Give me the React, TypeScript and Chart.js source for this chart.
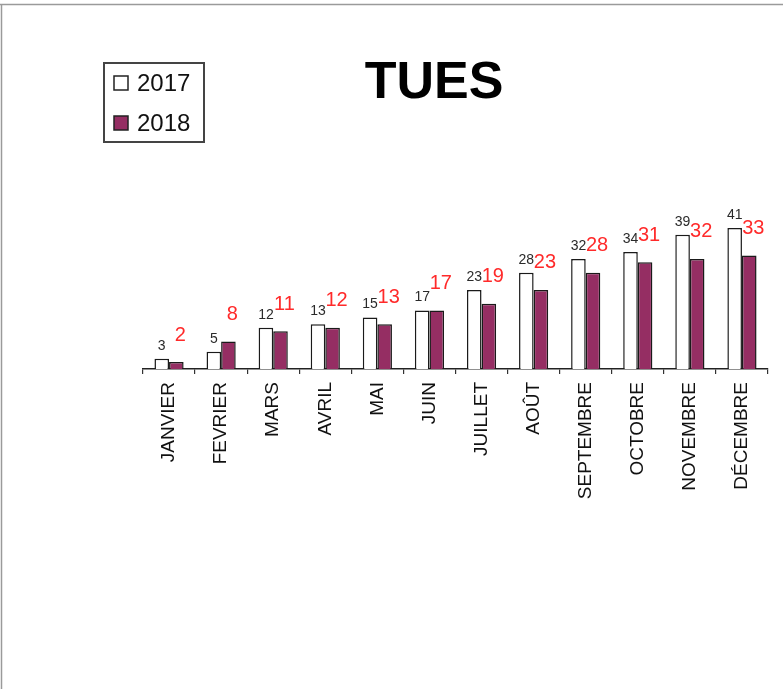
import React, { useEffect, useRef } from "react";
import { Chart, registerables } from "chart.js";

Chart.register(...registerables);

const months = [
  "JANVIER", "FEVRIER", "MARS", "AVRIL", "MAI", "JUIN",
  "JUILLET", "AOÛT", "SEPTEMBRE", "OCTOBRE", "NOVEMBRE", "DÉCEMBRE",
];
const values2017 = [3, 5, 12, 13, 15, 17, 23, 28, 32, 34, 39, 41];
const values2018 = [2, 8, 11, 12, 13, 17, 19, 23, 28, 31, 32, 33];
const seriesLabels = ["2017", "2018"];
const chartTitle = "TUES";

const FONT = '"Liberation Sans", Arial, sans-serif';

const decorPlugin = {
  id: "decor",
  beforeDraw(chart: any) {
    const ctx = chart.ctx;
    ctx.save();
    ctx.fillStyle = "#ffffff";
    ctx.fillRect(0, 0, chart.width, chart.height);
    ctx.strokeStyle = "#9a9a9a";
    ctx.lineWidth = 1.5;
    ctx.beginPath();
    ctx.moveTo(0, 4.5);
    ctx.lineTo(chart.width, 4.5);
    ctx.moveTo(1.5, 4.5);
    ctx.lineTo(1.5, chart.height);
    ctx.stroke();
    ctx.restore();
  },
  afterDraw(chart: any) {
    const ctx = chart.ctx;
    ctx.save();
    // title
    ctx.fillStyle = "#000";
    ctx.font = `bold 52px ${FONT}`;
    ctx.textAlign = "center";
    ctx.textBaseline = "middle";
    ctx.fillText(chartTitle, 434, 84);
    // legend
    ctx.strokeStyle = "#444";
    ctx.lineWidth = 2;
    ctx.strokeRect(104, 63, 100, 79);
    chart.data.datasets.forEach((ds: any, i: number) => {
      const cy = 83 + i * 40;
      ctx.fillStyle = ds.backgroundColor;
      ctx.fillRect(114, cy - 7, 14, 14);
      ctx.strokeStyle = "#222";
      ctx.lineWidth = 1.5;
      ctx.strokeRect(114, cy - 7, 14, 14);
      ctx.fillStyle = "#111";
      ctx.font = `24px ${FONT}`;
      ctx.textAlign = "left";
      ctx.textBaseline = "middle";
      ctx.fillText(ds.label, 137, cy + 1);
    });
    ctx.restore();
  },
  afterDatasetsDraw(chart: any) {
    const ctx = chart.ctx;
    ctx.save();
    ctx.textAlign = "center";
    ctx.textBaseline = "middle";
    chart.data.datasets.forEach((ds: any, i: number) => {
      const meta = chart.getDatasetMeta(i);
      meta.data.forEach((bar: any, j: number) => {
        const v = ds.data[j];
        if (i === 0) {
          ctx.fillStyle = "#2a2a2a";
          ctx.font = `14px ${FONT}`;
          ctx.fillText(String(v), bar.x, bar.y - 13);
        } else {
          ctx.fillStyle = "#ff2a2a";
          ctx.font = `20px ${FONT}`;
          ctx.fillText(String(v), bar.x + 4, bar.y - 27);
        }
      });
    });
    ctx.restore();
  },
};

export default function App() {
  const ref = useRef<HTMLCanvasElement | null>(null);
  useEffect(() => {
    if (!ref.current) return;
    const chart = new Chart(ref.current, {
      type: "bar",
      data: {
        labels: months,
        datasets: [
          {
            label: seriesLabels[0],
            data: values2017,
            backgroundColor: "#ffffff",
            borderColor: "#1a1a1a",
            borderWidth: 1.5,
            categoryPercentage: 0.56,
            barPercentage: 1.0,
          },
          {
            label: seriesLabels[1],
            data: values2018,
            backgroundColor: "#952e63",
            borderColor: "#1a1a1a",
            borderWidth: 1.5,
            categoryPercentage: 0.56,
            barPercentage: 1.0,
          },
        ],
      },
      options: {
        animation: false,
        responsive: true,
        maintainAspectRatio: false,
        layout: { padding: { left: 143, right: 15, top: 197, bottom: 0 } },
        plugins: {
          legend: { display: false },
          title: { display: false },
          tooltip: { enabled: false },
        },
        scales: {
          x: {
            afterFit: (s: any) => {
              s.height = 320;
            },
            border: { display: true, color: "#222", width: 1.5 },
            grid: {
              offset: true,
              drawOnChartArea: false,
              drawTicks: true,
              tickLength: 5,
              color: "#333",
              lineWidth: 1.2,
            },
            ticks: {
              minRotation: 90,
              maxRotation: 90,
              autoSkip: false,
              padding: 8,
              color: "#111",
              font: { family: FONT, size: 19 },
            },
          },
          y: {
            display: false,
            min: 0,
            max: 50,
          },
        },
      },
      plugins: [decorPlugin],
    });
    return () => chart.destroy();
  }, []);
  return (
    <div style={{ position: "fixed", left: 0, top: 0, width: 783, height: 689, background: "#fff" }}>
      <canvas ref={ref} />
    </div>
  );
}
